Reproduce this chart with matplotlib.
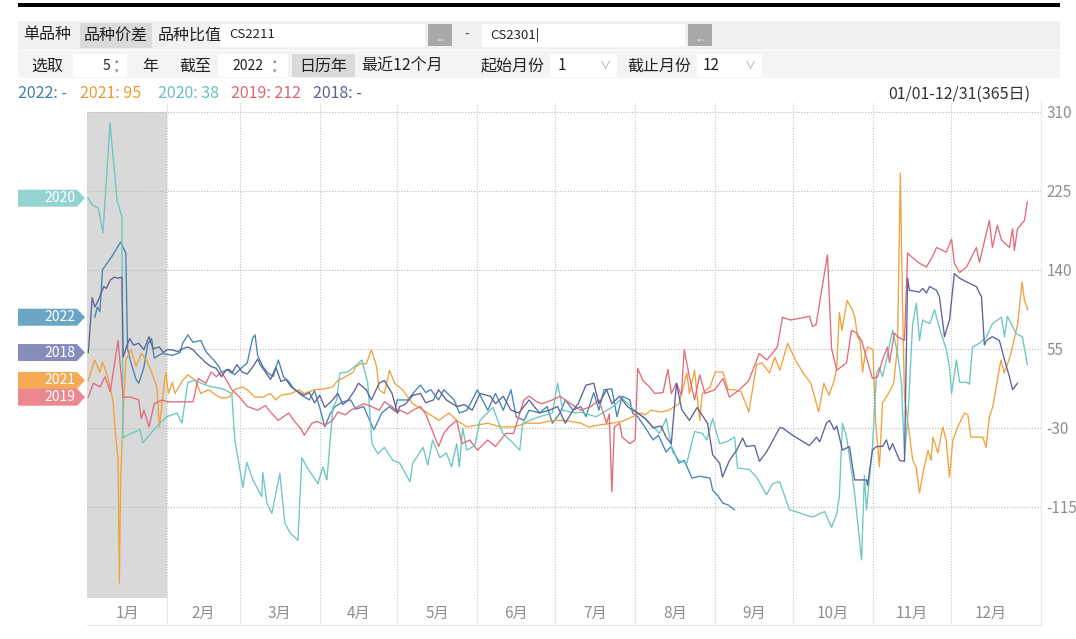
import matplotlib
matplotlib.use("Agg")
import matplotlib.pyplot as plt
from matplotlib.patches import Polygon, Rectangle
import matplotlib.transforms as mtransforms

plt.rcParams['font.family'] = ['Noto Sans CJK SC', 'DejaVu Sans']

# ---- data (day of year, spread value) ----
days_2022 = [3, 4, 5, 6, 8, 10, 13, 15, 15.7, 17, 19, 20, 22, 23.5, 25, 26, 29, 33, 36, 37, 39, 41, 44, 46, 49, 51, 52, 55, 57, 60,
             62, 64, 65, 66, 68, 70, 72, 74, 76, 78, 80, 83, 86, 88, 90, 92, 94, 96, 99, 102, 104, 107, 109, 111, 113, 114, 117,
             119, 120, 124, 127, 129, 131, 133, 136, 138, 142, 144, 147, 151, 155, 158, 161, 164, 166, 169, 171, 175, 178, 180,
             183, 185, 188, 191, 193, 196, 198, 200, 203, 205, 207, 210, 211, 213, 216, 219, 221, 224, 226, 229, 231, 234, 237,
             241, 242, 244, 246, 248, 250.5]
vals_2022 = [89, 100, 95, 140, 148, 156, 170, 158, 55, 40, 22, 18, 35, 60, 66, 45, 50, 48, 51, 61, 70, 62, 64, 52, 43, 36, 30, 33, 27, 35,
             40, 66, 70, 48, 36, 29, 25, 43, 25, 20, 12, 5, 0, 10, -8, -29, -15, -7, -2, 0, -10, -7, -20, -32, -20, -14, -7,
             -12, 0, 0, 10, 16, 8, 11, 0, 11, 0, -14, -11, 11, -11, 7, -11, 11, -18, -22, -11, -14, -7, -25,
             -14, 0, -11, -7, -18, 8, -11, 11, 12, -18, 4, 0, -14, -18, -30, -43, -38, -56, -50, -68, -65, -84, -82,
             -84, -97, -103, -111, -113, -118]

days_2021 = [0.5, 3, 5, 6, 8, 10, 11, 12, 12.5, 13, 14, 15, 17, 19, 21, 23, 25, 27, 28, 30, 30.5, 31.5, 33, 34, 37, 39, 42, 44, 47, 50,
             52, 55, 57, 60, 62, 65, 68, 71, 73, 75, 79, 82, 84, 88, 92, 95, 97, 100, 103, 104, 106, 108, 110, 112, 113, 115, 117,
             119, 122, 126, 130, 134, 136, 140, 143, 147, 151, 155, 160, 165, 170, 175, 180, 185, 191, 194, 198, 203, 207, 211,
             214, 216, 218, 222, 225, 229, 232, 233, 235, 237, 238, 241, 243, 246, 248, 250, 253, 256, 259, 261, 264, 266, 268,
             271, 274, 277, 280, 283, 285, 287, 289, 290, 291, 292, 294, 296, 297, 298, 299, 300, 301, 302, 304, 305, 306.5,
             307.7, 310, 312, 313.5, 314.6, 315.4, 316.2, 317.5, 319.4, 320.7, 322, 323.3, 325.3, 326.5, 327.2, 329.1, 331,
             332.3, 333.6, 334.9, 336.8, 339.4, 340.7, 341.9, 343.9, 346.5, 347.8, 349, 350.3, 353.5, 354.8, 357.4, 358.5, 360,
             361.7, 362.6, 363.9]
vals_2021 = [21, 43, 30, 41, 25, 0, -36, -65, -197, -86, -14, 43, 54, 36, 50, 43, 30, 14, -29, 21, 29, 7, 19, 7, 21, 27, 21, 7, 11, 5,
             2, 3, 11, 14, 11, 3, 3, 7, 0, 5, 7, 11, 7, 11, 12, 14, 21, 25, 30, 36, 39, 39, 54, 36, 11, 7, 32,
             18, 11, -4, -11, -18, -22, -14, -22, -29, -27, -25, -29, -29, -25, -25, -22, -22, -25, -29, -27, -25, -23, -18,
             -14, -16, -11, -13, -11, -4, 29, 7, 32, -22, 7, 14, 30, 30, 11, 11, 9, -13, 38, 40, 29, 46, 32,
             61, 43, 29, 18, -13, 18, 5, 21, 35, 94, 75, 107, 97, 89, 68, 64, 30, 50, 57, 54, -22, -72,
             -3, 7, 18, 57, 244, 107, 3, -25, -65, -72, -100, -79, -54, -65, -40, -57, -29,
             -43, -83, -43, -29, -14, -16, -40, -40, -40, -51, -18, -8, 43, 29, 50, 64, 82,
             127, 107, 97]

days_2020 = [0.4, 2.3, 4.3, 6.2, 8.9, 11.6, 13.5, 13.9, 15.5, 18, 20.5, 21.6, 25, 28.2, 30.9, 34.8, 36.7, 39, 41.7, 45, 48.3, 51,
             53.3, 56, 57.2, 60.3, 61.8, 64.2, 67.6, 68, 69.6, 71.5, 74.6, 76.5, 78.5, 81.6, 83.1, 85, 89.3, 91.2, 92.8, 95.1,
             96.6, 97.8, 100.9, 104, 106.3, 108.6, 110.2, 112.5, 115, 118.3, 121, 124.9, 126, 130, 131.8, 133.7, 136.5, 139,
             141, 143, 144, 145.3, 146.9, 150, 152, 157, 160.8, 164.7, 167.4, 168.5, 175, 180, 182, 184, 189, 190.6, 197, 203,
             207, 211, 216.5, 221.5, 224, 226.5, 229, 232, 235, 238, 239.7, 242, 244.7, 247.4, 250.5, 251.6, 256.3, 259, 262.8,
             265.2, 267.9, 271.7, 280.6, 285.3, 288, 290, 291, 292.2, 293.8, 296.9, 299.6, 300.7, 301.5, 303.8, 305.4, 306.5,
             307.7, 309.2, 311.6, 313.5, 315, 316.2, 317.7, 319.3, 320.8, 322, 323.2, 325.9, 327.8, 329.7, 332.4, 333.6, 334.4,
             336.3, 337.5, 340.2, 341.3, 342.5, 345.2, 347.9, 350.2, 353.7, 354.9, 356, 359.5, 361.8, 363.4, 363.7]
vals_2020 = [217, 209, 207, 180, 298, 215, 197, -41, -38, -35, -32, -46, -35, -25, -18, -14, -25, 19, 21, 17, 14, 13,
             11, 7, -43, -94, -67, -86, -104, -78, -111, -122, -79, -132, -143, -151, -62, -72, -90, -72, -86, -8,
             0, 29, 30, 37, 43, 18, -47, -58, -51, -65, -68, -88, -68, -51, -70, -43, -62, -57,
             -72, -47, -72, -30, -54, -49, -22, -8, -36, -46, -54, -25, -18, -14, 18, -11, -14, -13, -18, -8,
             2, -9, -22, -36, -20, -56, -65, -68, -34, -36, -43, -20, -47, -45, -40, -73, -75, -83, -102,
             -90, -88, -118, -126, -120, -137, -122, -104, -25, -40, -100, -172, -81, -118, -51, 29, 35,
             25, 43, 75, 50, 20, -60, -10, 80, 104, 64, 86, 82, 97, 78, 54, 35, 7,
             43, 19, 19, 17, 57, 61, 68, 82, 89, 68, 90, 71, 68, 43, 38]

days_2019 = [0.5, 2.5, 5, 7, 9, 12, 14, 17, 20, 21, 22, 24, 26, 29, 31, 41, 43, 46, 48, 50, 52, 54, 56, 59, 62, 66, 69, 71, 74, 78,
             80, 83, 84, 87, 89, 92, 95, 97, 100, 102, 105, 107, 110, 113, 115, 118, 120, 121, 124, 126, 129, 131, 134, 136, 138,
             140, 143, 145, 148, 151, 155, 158, 162, 165, 169, 171, 174, 176, 180, 183, 186, 191, 195, 198, 201, 202, 203, 204,
             206, 207, 210, 212, 213, 215, 217.6, 219.6, 222.8, 224.7, 226, 228, 229.9, 231, 233, 235, 237, 239, 242.8, 246,
             248.5, 252.4, 256, 260, 263, 265, 267, 269, 272, 276, 279.5, 280.6, 282, 286.4, 288, 290, 293.8, 295.7, 297.6,
             299.6, 303.8, 305.8, 307.7, 309.6, 310.4, 312.3, 313.5, 316.2, 317.4, 319.3, 322, 324.7, 327, 328.6, 332.4, 334.4,
             335.5, 337.5, 340.2, 344, 345.2, 349, 350.2, 352.1, 353.7, 356.8, 358, 358.7, 359.9, 362.6, 363.7]
vals_2019 = [3, 18, 14, 25, 9, 64, 3, 3, 0, -20, -11, -29, -4, 0, -2, -2, 23, 18, 30, 25, 30, 21, 11, 3, -7, -11, -6, -13, -22, -14,
             -22, -32, -38, -25, -23, -27, -22, -13, -16, -11, -7, -4, -7, -11, -2, -7, -14, -11, -15, -11, -7, -15, -36, -50, -36,
             -29, -22, -47, -43, -54, -43, -50, -36, -36, 0, 4, -2, -4, 0, 4, -2, -11, -7, 0, -25, -15, -99, -29,
             -25, -40, -47, -43, 34, 21, 14, 7, 8, 33, 7, 18, 5, 54, 25, 0, 27, 7, 11, 23,
             3, 11, 21, 50, 43, 50, 57, 89, 86, 88, 90, 79, 81, 156, 55, 32, 40, 75, 72,
             64, 23, 25, 43, 57, 40, 72, 68, 64, 158, 153, 147, 143, 154, 164, 159, 173,
             147, 137, 143, 164, 148, 193, 164, 188, 172, 164, 184, 161, 184, 193, 213]

days_2018 = [0.5, 2, 3, 4, 5.5, 6.5, 7.5, 9, 10.5, 12, 13.5, 14, 15, 16.5, 18, 20, 22, 24, 25.5, 28, 29.5, 31, 33, 35, 37, 39, 41, 43,
             46, 48, 50, 52, 54, 56, 58, 60, 62, 64, 66, 67, 69, 71, 73, 75, 77, 79, 81, 84, 86, 88, 90, 92, 95, 97, 99, 101, 103,
             105, 108, 110, 113, 115, 118, 120, 121, 123, 126, 129, 131, 134, 136, 139, 143, 146, 149, 152, 156, 158, 161, 164,
             167, 171, 175, 179, 182, 185, 188, 190, 193, 196, 198, 201, 203, 206, 209, 211, 213, 216, 219, 222, 224, 226, 228,
             230, 233, 236, 240, 242, 244.7, 245.8, 248.5, 251.3, 253.6, 255, 258.2, 260.1, 262.8, 265, 267.9, 269, 272.9, 279.4,
             282.2, 283.4, 286, 287.2, 289.1, 290, 292.2, 294.9, 296.9, 301.5, 301.9, 303.8, 305.4, 307.7, 309.2, 310.4, 311.6,
             314.3, 316.2, 317.4, 318.1, 322, 323.2, 324.7, 325.9, 328.6, 329.7, 331.7, 332.4, 333.6, 335.5, 337.5, 340.2, 344,
             345.2, 346, 347.1, 347.9, 350.2, 352.9, 354.9, 356.8, 358, 359.9]
vals_2018 = [51, 110, 100, 105, 115, 122, 120, 129, 132, 131, 132, 46, 55, 66, 59, 61, 54, 68, 55, 57, 51, 54, 54, 52, 55, 57, 54, 48,
             40, 36, 34, 25, 33, 29, 38, 30, 28, 35, 44, 38, 30, 22, 35, 20, 22, 14, 10, 5, 8, -3, 5, -8, 0, 7, -5, 0, 8,
             18, 11, 0, 18, 21, 7, -14, -7, -5, 5, 7, -3, 0, 11, 0, -7, -5, -11, 7, 4, -4, 4, -11,
             -14, 0, -14, -11, -7, -25, -11, -4, 16, 18, -4, 11, -4, 4, -7, -11, -14, -20, -30, -28, -40, -47, 18,
             -10, -22, -8, -25, -59, -68, -83, -65, -54, -41, -50, -49, -66, -56, -45, -30, -30, -38, -49,
             -40, -45, -25, -22, -32, -28, -54, -50, -86, -86, -92, -54, -50, -50, -43, -54, -47,
             -65, -66, 131, 118, 116, 120, 115, 122, 118, 111, 68, 75, 86, 136, 131, 127, 122,
             115, 111, 59, 64, 68, 64, 43, 25, 11, 18]

years = ['2022', '2021', '2020', '2019', '2018']
latest = ['-', '95', '38', '212', '-']
series_days = [days_2022, days_2021, days_2020, days_2019, days_2018]
series_vals = [vals_2022, vals_2021, vals_2020, vals_2019, vals_2018]

month_starts = [0, 31, 59, 90, 120, 151, 181, 212, 243, 273, 304, 334, 365]
month_labels = ['1月', '2月', '3月', '4月', '5月', '6月', '7月', '8月', '9月', '10月', '11月', '12月']
y_ticks = [310, 225, 140, 55, -30, -115]

line_colors = {'2022': '#4585b2', '2021': '#f0a23c', '2020': '#6cc6c2', '2019': '#e26b7b', '2018': '#5b6398'}
tag_colors = {'2022': '#6aa5c6', '2021': '#f6aa55', '2020': '#93d4d1', '2019': '#ec8790', '2018': '#878dbb'}
text_colors = {'2022': '#3f7fa9', '2021': '#eb9a3a', '2020': '#66c1be', '2019': '#dd6572', '2018': '#5a6297'}

W, H = 1076, 639
fig = plt.figure(figsize=(W / 100, H / 100), dpi=100)
fig.patch.set_facecolor('white')


def fx(px):
    return px / W


def fy(py):
    return 1 - py / H


def box(x0, y0, x1, y1, color):
    fig.add_artist(Rectangle((fx(x0), fy(y1)), fx(x1) - fx(x0), (y1 - y0) / H,
                             transform=fig.transFigure, facecolor=color, edgecolor='none'))


def label(px, py, s, size=11.5, color='#222222', ha='center'):
    fig.text(fx(px), fy(py), s, fontsize=size, color=color, ha=ha, va='center')


# ---- top toolbar ----
box(18, 3, 1060, 7, '#000000')
box(18, 21, 1060, 50, '#f1f1f1')
box(18, 51, 1060, 78, '#f4f4f4')
label(47, 35, '单品种')
box(80, 23, 152, 48, '#dadada')
label(116, 35, '品种价差')
label(190, 35, '品种比值')
box(220, 24, 425, 47, '#ffffff')
label(229, 35, 'CS2211', size=9.5, ha='left')
box(428, 24, 452, 46, '#a9a9a9')
label(440, 38, '...', size=7, color='#f0f0f0')
label(467, 35, '-', size=10, color='#555555')
box(482, 24, 685, 47, '#ffffff')
label(490, 35, 'CS2301|', size=9.5, ha='left')
box(688, 24, 712, 46, '#a9a9a9')
label(700, 38, '...', size=7, color='#f0f0f0')

label(47, 66, '选取')
box(73, 54, 127, 77, '#ffffff')
label(106, 66, '5', size=10)
label(117, 66, '▴\n▾', size=5, color='#888888')
label(150, 66, '年')
label(195, 66, '截至')
box(218, 54, 288, 77, '#ffffff')
label(248, 66, '2022', size=10)
label(275, 66, '▴\n▾', size=5, color='#888888')
box(292, 54, 355, 77, '#dadada')
label(323, 66, '日历年')
label(402, 66, '最近12个月')
label(513, 66, '起始月份')
box(550, 54, 617, 77, '#ffffff')
label(562, 66, '1', size=11)
label(605, 66, '∨', size=8, color='#aaaaaa')
label(659, 66, '截止月份')
box(697, 54, 762, 77, '#ffffff')
label(711, 66, '12', size=11)
label(750, 66, '∨', size=8, color='#aaaaaa')

# ---- legend row ----
legend_x = [18, 80, 158, 231, 313]
for yr, v, lx in zip(years, latest, legend_x):
    label(lx, 94, f'{yr}: {v}', size=11.5, color=text_colors[yr], ha='left')
label(1030, 94, '01/01-12/31(365日)', size=11.5, color='#333333', ha='right')

# ---- main plot ----
ymin, ymax = -213, 319.4
ax = fig.add_axes([fx(87), fy(598), fx(1041) - fx(87), (598 - 103) / H])
ax.set_xlim(0, 369)
ax.set_ylim(ymin, ymax)
ax.fill_between([month_starts[0], month_starts[1]], ymin, y_ticks[0], color='#d9d9d9', lw=0, zorder=0)
for t in y_ticks:
    ax.axhline(t, color='#b8b8b8', lw=0.8, ls=(0, (1, 1.5)), zorder=1)
for d in month_starts[1:12]:
    ax.axvline(d, color='#c4c4c4', lw=0.8, ls=(0, (1, 1.5)), zorder=1)

for yr, dd, vv in zip(years, series_days, series_vals):
    ax.plot(dd, vv, color=line_colors[yr], lw=0.95, zorder=3)

for s in ax.spines.values():
    s.set_visible(False)
ax.set_xticks([])
ax.yaxis.tick_right()
ax.set_yticks(y_ticks)
ax.set_yticklabels([str(t) for t in y_ticks])
ax.tick_params(axis='y', length=0, pad=4, labelcolor='#8e8e8e', labelsize=11)

# right frame line
fig.add_artist(plt.Line2D([fx(1041), fx(1041)], [fy(100), fy(625)], color='#ececec', lw=1.0,
                          transform=fig.transFigure))

# ---- month band ----
axm = fig.add_axes([fx(87), fy(625), fx(1041) - fx(87), (625 - 598) / H])
axm.set_xlim(0, 369)
axm.set_ylim(0, 1)
for d in month_starts[1:12]:
    axm.axvline(d, color='#e6e6e6', lw=0.9)
for a, b, m in zip(month_starts[:-1], month_starts[1:], month_labels):
    axm.text((a + b) / 2, 0.42, m, ha='center', va='center', fontsize=11, color='#8e8e8e')
for k, s in axm.spines.items():
    s.set_visible(k == 'bottom')
    s.set_color('#e6e6e6')
axm.set_xticks([])
axm.set_yticks([])

# ---- start-value tags on the left ----
trans = mtransforms.blended_transform_factory(fig.transFigure, ax.transData)
half = 8.5 * (ymax - ymin) / (598 - 103)
for yr in ['2020', '2022', '2018', '2021', '2019']:
    v0 = series_vals[years.index(yr)][0]
    pts = [(fx(18), v0 + half), (fx(77), v0 + half), (fx(85), v0), (fx(77), v0 - half), (fx(18), v0 - half)]
    poly = Polygon(pts, closed=True, transform=trans, facecolor=tag_colors[yr], edgecolor='none', clip_on=False)
    fig.add_artist(poly)
    fig.text(fx(60), v0, yr, transform=trans, fontsize=10, color='white', ha='center', va='center')

fig.savefig('out.png', dpi=100)
